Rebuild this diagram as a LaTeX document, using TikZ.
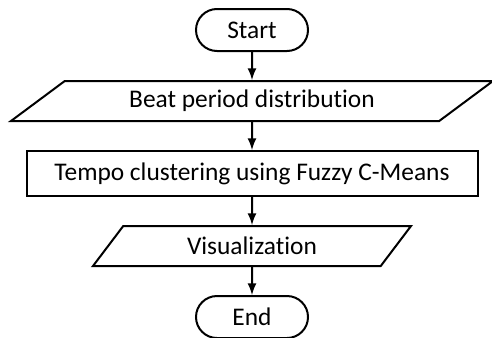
\documentclass[tikz,border=0pt]{standalone}
\usepackage{fontspec}
\setmainfont{Carlito}[Ligatures=NoCommon]
\usetikzlibrary{shapes.geometric, arrows, positioning}

\begin{document}
\begin{tikzpicture}[
            node distance=14pt, % gap between the boxes
            every node/.style={draw, line width=1pt, inner sep=0pt, font=\fontsize{12.7}{15}\selectfont}, % all boxes
            term/.style={rectangle, rounded corners=10.5pt, minimum width=56pt, minimum height=21pt}, % start and end
            io/.style={trapezium, trapezium stretches body, minimum height=20pt}, % data boxes
            process/.style={rectangle, minimum width=225.5pt, minimum height=22.5pt}, % process box
            flow/.style={-latex, line width=1pt}
            ]

                \useasboundingbox (0,0) rectangle (246pt,-168.5pt);

                % boxes from top to bottom
                \node[term] (start) at (126pt,-15pt) {Start};
                \node[io, trapezium left angle=22, trapezium right angle=158, minimum width=241pt, below=of start] (beat) {Beat period distribution};
                \node[process, below=of beat] (tempo) {Tempo clustering using Fuzzy C-Means};
                \node[io, trapezium left angle=30.5, trapezium right angle=149.5, minimum width=159pt, below=of tempo] (vis) {Visualization};
                \node[term, below=of vis] (end) {End};

                % arrows
                \draw[flow] (start) -- (beat);
                \draw[flow] (beat) -- (tempo);
                \draw[flow] (tempo) -- (vis);
                \draw[flow] (vis) -- (end);

            \end{tikzpicture}
\end{document}
